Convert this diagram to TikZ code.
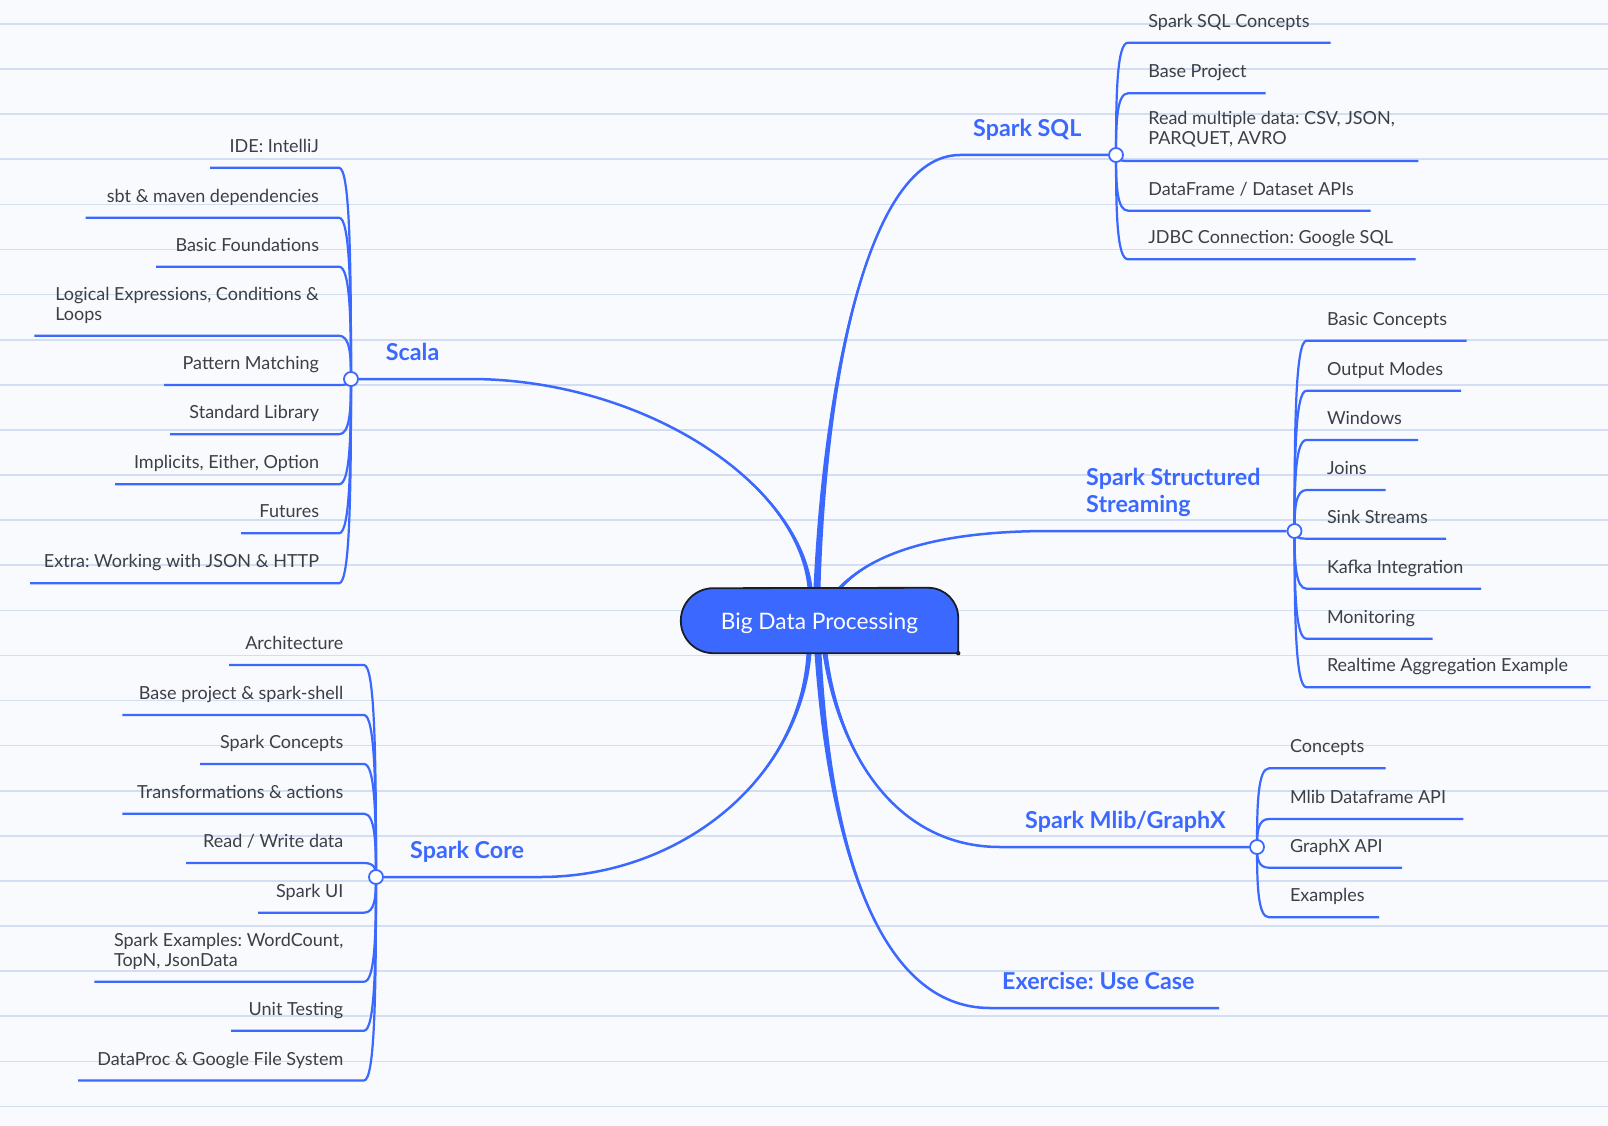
\documentclass[tikz,border=0pt]{standalone}
\usepackage{fontspec}
\setmainfont{Lato}
\usetikzlibrary{calc}
\frenchspacing
\definecolor{paper}{HTML}{F9FAFD}
\definecolor{rulecol}{HTML}{D3DEF3}
\definecolor{brand}{HTML}{3B69FF}
\definecolor{ink}{HTML}{3B3F46}
\definecolor{navy}{HTML}{1A1D2B}
\pgfdeclarelayer{paperlayer}
\pgfdeclarelayer{edgelayer}
\pgfdeclarelayer{boxlayer}
\pgfsetlayers{paperlayer,edgelayer,boxlayer,main}
\tikzset{
  childtext/.style={font=\fontsize{18}{20.5}\selectfont, text=ink, inner sep=0pt, outer sep=0pt},
  childtwo/.style={childtext, align=left},
  branchlabel/.style={font=\bfseries\fontsize{23.3}{27}\selectfont, text=brand, inner sep=0pt, align=left},
  hub/.style={circle, draw=brand, fill=white, line width=1.8pt, minimum size=14pt, inner sep=0pt},
  subedge/.style={draw=brand, line width=2.2pt},
  mainedge/.style={draw=brand, line width=2.5pt},
  rulestyle/.style={draw=rulecol, line width=1.6pt},
  rootbox/.style={minimum width=277pt, minimum height=65pt, inner sep=0pt, text=white, text height=22pt, text depth=4.5pt, font=\fontsize{22.7}{27}\selectfont},
}
\newcommand\mmbranch[6]{%
  \fill[brand] ($(#1)+(-#5,0)$) .. controls ($#2+(-0.5*#5,0)$) and #3 .. #4 .. controls #3 and ($#2+(0.5*#5,0)$) .. ($(#1)+(#5,0)$) -- cycle;
  \draw[mainedge] (#1) .. controls #2 and #3 .. #4 -- (#6);
}
\begin{document}
\begin{tikzpicture}[x=1pt,y=-1pt]
\useasboundingbox (0,0) rectangle (1608,1126);
\begin{pgfonlayer}{paperlayer}
  \fill[paper] (0,0) rectangle (1608,1126);
  \foreach \k in {0,...,24}{\draw[rulestyle] (0,{24+45.1*\k}) -- (1608,{24+45.1*\k});}
\end{pgfonlayer}

% ---------- root ----------
\node[rootbox] (root) at (819.5,620.5) {Big Data Processing};
\begin{pgfonlayer}{boxlayer}
  \fill[brand] (root.south east) -- ([xshift=32.5pt]root.south west) arc[start angle=270,end angle=90,radius=32.5pt] -- ([xshift=-30pt]root.north east) arc[start angle=90,end angle=0,radius=30pt] -- cycle;
  \draw[navy,line width=1.8pt] (root.south east) -- ([xshift=32.5pt]root.south west) arc[start angle=270,end angle=90,radius=32.5pt] -- ([xshift=-30pt]root.north east) arc[start angle=90,end angle=0,radius=30pt] -- cycle;
  \fill[navy] (root.south east) circle[radius=2.2pt];
\end{pgfonlayer}
\coordinate (rSc) at ([xshift=-9.5pt]root.north);
\coordinate (rSq) at ([xshift=-2.5pt]root.north);
\coordinate (rSt) at ([xshift=20.5pt]root.north);
\coordinate (rCo) at ([xshift=-10.5pt]root.south);
\coordinate (rEx) at ([xshift=-1.5pt]root.south);
\coordinate (rMl) at ([xshift=5.5pt]root.south);

% ---------- hubs ----------
\node[hub] (sc) at (351,379) {};
\node[hub] (cc) at (376,877) {};
\node[hub] (qc) at (1116,155) {};
\node[hub] (tc) at (1294.5,531) {};
\node[hub] (mc) at (1257,847) {};
\coordinate (ex) at (1219,1008);

% ---------- branch labels ----------
\node[branchlabel, anchor=base west] (scl) at (385.7,360.5) {Scala};
\node[branchlabel, anchor=base west] (ccl) at (410,858.5) {Spark Core};
\node[branchlabel, anchor=base west] (qcl) at (973,136.5) {Spark SQL};
\node[branchlabel, anchor=south west] (tcl) at (1086,517) {Spark Structured\\Streaming};
\node[branchlabel, anchor=base west] (mcl) at (1025,828.5) {Spark Mlib/GraphX};
\node[branchlabel, anchor=base west] (exl) at (1002,989) {Exercise: Use Case};

% ---------- Scala children ----------
\foreach \i/\txt/\ul in {1/{IDE: IntelliJ}/167.7, 2/{sbt \& maven dependencies}/217.7, 3/{Basic Foundations}/266.7, 5/{Pattern Matching}/385, 6/{Standard Library}/434.3, 7/{Implicits, Either, Option}/484.3, 8/{Futures}/533.3, 9/{Extra: Working with JSON \& HTTP}/583.3}{
  \node[childtext, anchor=base east] (sct\i) at (319,{\ul-15.5}) {\txt};
}
\node[childtwo, anchor=south east] (sct4) at (319,{335.7-12}) {Logical Expressions, Conditions \&\\Loops};

% ---------- Spark Core children ----------
\foreach \i/\txt/\ul in {1/{Architecture}/665, 2/{Base project \& spark-shell}/715, 3/{Spark Concepts}/764, 4/{Transformations \& actions}/813.7, 5/{Read / Write data}/863, 6/{Spark UI}/912.7, 8/{Unit Testing}/1030.7, 9/{DataProc \& Google File System}/1080.5}{
  \node[childtext, anchor=base east] (cct\i) at (343.3,{\ul-15.5}) {\txt};
}
\node[childtwo, anchor=south east] (cct7) at (343.3,{981.7-12}) {Spark Examples: WordCount,\\TopN, JsonData};

% ---------- Spark SQL children ----------
\foreach \i/\txt/\ul in {1/{Spark SQL Concepts}/42.7, 2/{Base Project}/93.3, 4/{DataFrame / Dataset APIs}/210.7, 5/{JDBC Connection: Google SQL}/259.3}{
  \node[childtext, anchor=base west] (qct\i) at (1148.3,{\ul-15.5}) {\txt};
}
\node[childtwo, anchor=south west] (qct3) at (1148.3,{161-13.7}) {Read multiple data: CSV, JSON,\\PARQUET, AVRO};

% ---------- Streaming children ----------
\foreach \i/\txt/\ul in {1/{Basic Concepts}/340.7, 2/{Output Modes}/390.7, 3/{Windows}/440, 4/{Joins}/490, 5/{Sink Streams}/538.7, 6/{Kafka Integration}/588.7, 7/{Monitoring}/638.7, 8/{Realtime Aggregation Example}/687.3}{
  \node[childtext, anchor=base west] (tct\i) at (1327,{\ul-15.5}) {\txt};
}

% ---------- Mlib children ----------
\foreach \i/\txt/\ul in {1/{Concepts}/768.3, 2/{Mlib Dataframe API}/819, 3/{GraphX API}/867.7, 4/{Examples}/917.3}{
  \node[childtext, anchor=base west] (mct\i) at (1290,{\ul-15.5}) {\txt};
}

% ---------- edges ----------
\begin{pgfonlayer}{edgelayer}
  \mmbranch{rSc}{(798,480)}{(640,379)}{(470,379)}{2.5}{sc}
  \mmbranch{rSq}{(825,380)}{(868,155)}{(960,155)}{3.5}{qc}
  \mmbranch{rSt}{(880,545)}{(960,531)}{(1050,531)}{2.5}{tc}
  \mmbranch{rCo}{(800,780)}{(680,877)}{(540,877)}{2.5}{cc}
  \mmbranch{rMl}{(840,760)}{(900,847)}{(1000,847)}{2.5}{mc}
  \mmbranch{rEx}{(830,850)}{(880,1008)}{(990,1008)}{3.5}{ex}

  \foreach \ul/\lx [count=\i] in {167.7/210, 217.7/85.7, 266.7/156, 335.7/34.3, 385/164, 434.3/170, 484.3/115, 533.3/241, 583.3/30}{
    \coordinate (scu\i) at (\lx,\ul);
    \draw[subedge] (sc.center) .. controls (351,{379+0.55*(\ul-379)}) and (350,\ul) .. (339,\ul) -- (scu\i);
  }
  \foreach \ul/\lx [count=\i] in {665/229, 715/122.3, 764/200, 813.7/122.3, 863/186, 912.7/258, 981.7/94.3, 1030.7/231, 1080.5/78}{
    \coordinate (ccu\i) at (\lx,\ul);
    \draw[subedge] (cc.center) .. controls (376,{877+0.55*(\ul-877)}) and (375,\ul) .. (364,\ul) -- (ccu\i);
  }
  \foreach \ul/\rx [count=\i] in {42.7/1330.7, 93.3/1265.7, 161/1418.3, 210.7/1370.7, 259.3/1415.7}{
    \coordinate (qcu\i) at (\rx,\ul);
    \draw[subedge] (qc.center) .. controls (1116,{155+0.55*(\ul-155)}) and (1117,\ul) .. (1128,\ul) -- (qcu\i);
  }
  \foreach \ul/\rx [count=\i] in {340.7/1466.5, 390.7/1461, 440/1418, 490/1385.5, 538.7/1446, 588.7/1481, 638.7/1432.6, 687.3/1590.6}{
    \coordinate (tcu\i) at (\rx,\ul);
    \draw[subedge] (tc.center) .. controls (1294.5,{531+0.55*(\ul-531)}) and (1295.5,\ul) .. (1306.5,\ul) -- (tcu\i);
  }
  \foreach \ul/\rx [count=\i] in {768.3/1385.5, 819/1463.4, 867.7/1402, 917.3/1379}{
    \coordinate (mcu\i) at (\rx,\ul);
    \draw[subedge] (mc.center) .. controls (1257,{847+0.55*(\ul-847)}) and (1258,\ul) .. (1269,\ul) -- (mcu\i);
  }
\end{pgfonlayer}
\end{tikzpicture}
\end{document}
